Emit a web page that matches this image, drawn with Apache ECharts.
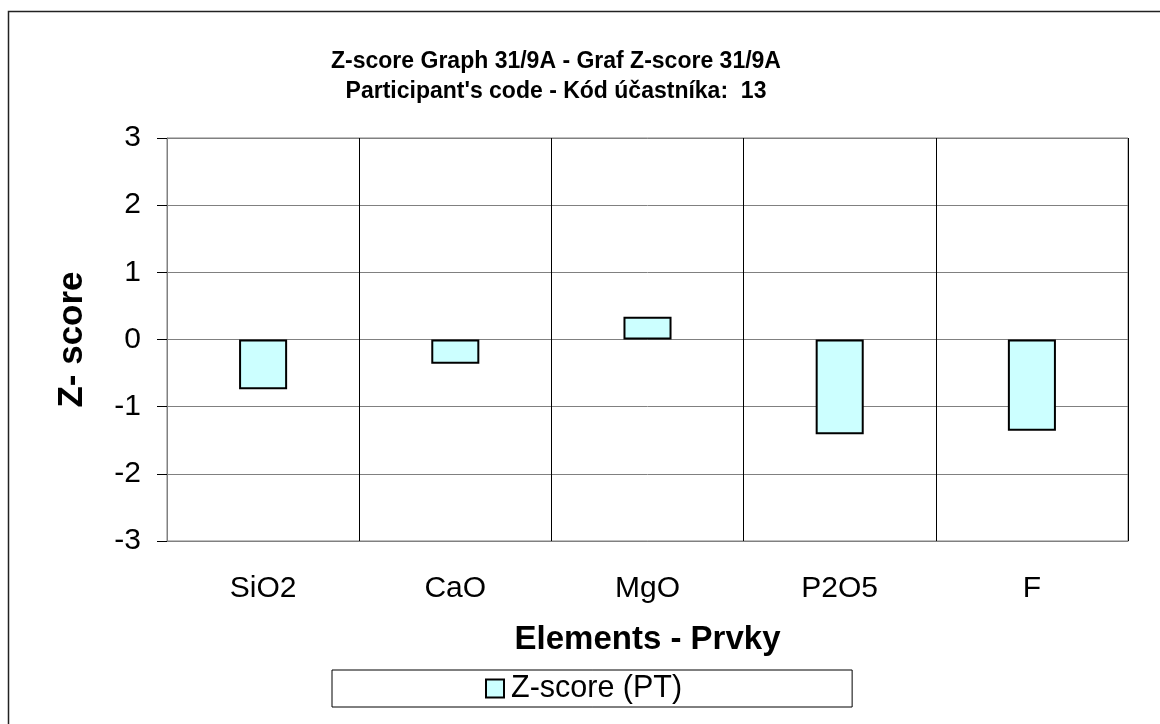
<!DOCTYPE html>
<html>
<head>
<meta charset="utf-8">
<script src="https://cdn.jsdelivr.net/npm/echarts@6/dist/echarts.min.js"></script>
<style>
html,body{margin:0;padding:0;background:#fff;}
#c{width:1160px;height:724px;}
</style>
</head>
<body>
<div id="c"></div>
<script>
const categories = ['SiO2', 'CaO', 'MgO', 'P2O5', 'F'];
const zScores = [-0.74, -0.36, 0.34, -1.41, -1.36];
const seriesName = 'Z-score (PT)';
const titleLines = ['Z-score Graph 31/9A - Graf Z-score 31/9A', "Participant's code - Kód účastníka:  13"];
const xName = 'Elements - Prvky';
const yName = 'Z- score';

const FONT = '"Liberation Sans", Arial, sans-serif';
const chart = echarts.init(document.getElementById('c'));
chart.setOption({
  animation: false,
  backgroundColor: '#fff',
  textStyle: { fontFamily: FONT },
  title: {
    text: titleLines.join('\n'),
    left: 551,
    top: 42,
    textAlign: 'center',
    textStyle: { fontFamily: FONT, fontSize: 23, fontWeight: 'bold', color: '#000', lineHeight: 30 }
  },
  graphic: [{
    type: 'rect',
    shape: { x: 8.5, y: 11.5, width: 1300, height: 900 },
    style: { fill: 'none', stroke: '#222', lineWidth: 1.5 },
    silent: true, z: -1
  }],
  legend: {
    data: [seriesName],
    left: 332,
    top: 670,
    padding: [3, 170, 3, 153],
    borderColor: '#000',
    borderWidth: 1,
    itemWidth: 18,
    itemHeight: 18,
    itemGap: 0,
    icon: 'rect',
    textStyle: { fontFamily: FONT, fontSize: 30.5, color: '#000', padding: [0, 0, 0, 2] }
  },
  grid: {
    left: 167, right: 32, top: 138, bottom: 183,
    show: true, borderColor: '#808080', borderWidth: 1
  },
  xAxis: {
    type: 'category',
    data: categories,
    name: xName,
    nameLocation: 'middle',
    nameGap: 82,
    nameTextStyle: { fontFamily: FONT, fontSize: 33, fontWeight: 'bold', color: '#000' },
    axisLine: { onZero: false, lineStyle: { color: '#808080' } },
    axisTick: { show: false },
    axisLabel: { margin: 33, fontFamily: FONT, fontSize: 30, color: '#000' },
    splitLine: { show: true, lineStyle: { color: '#000', width: 1 } }
  },
  yAxis: {
    type: 'value',
    min: -3, max: 3, interval: 1,
    name: yName,
    nameLocation: 'middle',
    nameGap: 77,
    nameTextStyle: { fontFamily: FONT, fontSize: 35, fontWeight: 'bold', color: '#000' },
    axisLine: { show: true, lineStyle: { color: '#808080' } },
    axisTick: { show: true, length: 10, lineStyle: { color: '#000' } },
    axisLabel: { margin: 26, fontFamily: FONT, fontSize: 30, color: '#000' },
    splitLine: { show: true, lineStyle: { color: '#808080', width: 1 } }
  },
  series: [{
    name: seriesName,
    type: 'bar',
    data: zScores,
    barWidth: '25%',
    itemStyle: { color: '#CCFFFF', borderColor: '#000', borderWidth: 2 }
  }]
});
</script>
</body>
</html>
